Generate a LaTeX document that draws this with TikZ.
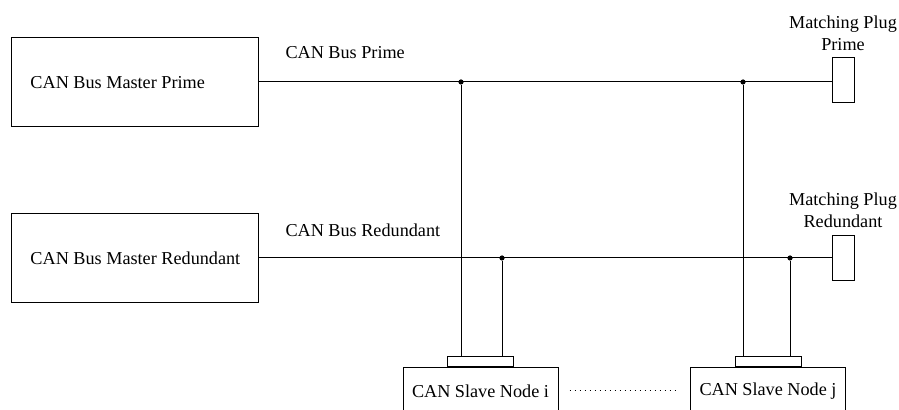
\documentclass[tikz,border=0pt]{standalone}
\usepackage{fontspec}
\setmainfont{Liberation Serif}
\usetikzlibrary{positioning}

\newcommand{\boxtext}[1]{\makebox[104pt][l]{#1}}

\tikzset{
  master/.style={draw, rectangle, minimum width=123.5pt, minimum height=44.5pt,
    inner xsep=9.5pt},
  slave/.style={draw, rectangle, minimum width=77.5pt, minimum height=23pt, inner sep=0pt},
  plugbox/.style={draw, rectangle, minimum width=11pt, minimum height=22.5pt, inner sep=0pt},
  connbox/.style={draw, rectangle, minimum width=33pt, minimum height=5pt, inner sep=0pt},
  tap/.style={circle, fill, inner sep=0pt, minimum size=2.6pt},
}

\begin{document}
\begin{tikzpicture}[x=0.5pt, y=-0.5pt, line width=0.5pt,
    font=\fontsize{9.1}{11}\selectfont]
  \useasboundingbox (0,0) rectangle (899,410);

  % masters
  \node[master] (mprime) at (134.5,82.5) {\boxtext{CAN Bus Master Prime}};
  \node[master] (mred) at (134.5,258) {\boxtext{CAN Bus Master Redundant}};

  % terminating plugs
  \node[plugbox] (plugp) at (843,80.5) {};
  \node[plugbox] (plugr) at (843,258) {};
  \node[above=0pt of plugp, align=center] (plugplabel) {Matching Plug\\Prime};
  \node[above=0pt of plugr, align=center] (plugrlabel) {Matching Plug\\Redundant};

  % buses
  \draw (mprime.east |- 0,82) -- (plugp.west |- 0,82);
  \draw (mred.east) -- (plugr.west);
  \node[anchor=west, inner xsep=0pt] (busp) at (285,53) {CAN Bus Prime};
  \node[anchor=west, inner xsep=0pt] (busr) at (285,230) {CAN Bus Redundant};

  % slave nodes with their taps
  \foreach \n/\cx/\px/\rx in {i/480.5/461/502, j/768/743/790} {
    \node[slave] (s\n) at (\cx,391) {CAN Slave Node \n};
    \node[connbox, above=0pt of s\n] (c\n) {};
    \node[tap] (tp\n) at (\px,82) {};
    \node[tap] (tr\n) at (\rx,258) {};
    \draw (tp\n) -- (tp\n |- c\n.north);
    \draw (tr\n) -- (tr\n |- c\n.north);
  }
  \draw[dotted, shorten <=5.5pt, shorten >=6.5pt] (si) -- (sj);
\end{tikzpicture}
\end{document}
